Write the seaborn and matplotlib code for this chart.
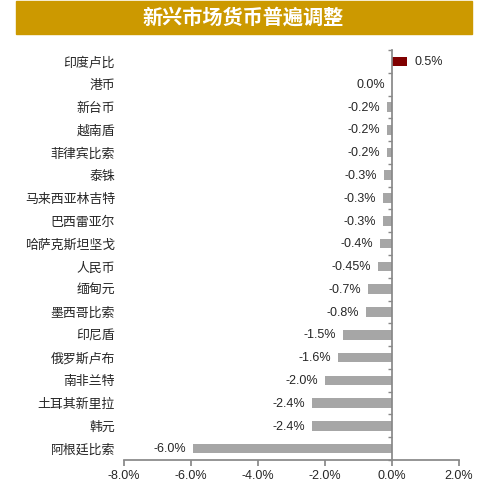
import matplotlib
matplotlib.use('Agg')
import matplotlib.pyplot as plt
import matplotlib.patches as mpatches
from matplotlib.ticker import FuncFormatter
import pandas as pd
import seaborn as sns

# data
currencies = ['印度卢比', '港币', '新台币', '越南盾', '菲律宾比索', '泰铢', '马来西亚林吉特',
              '巴西雷亚尔', '哈萨克斯坦坚戈', '人民币', '缅甸元', '墨西哥比索', '印尼盾',
              '俄罗斯卢布', '南非兰特', '土耳其新里拉', '韩元', '阿根廷比索']
changes = [0.46, 0.0, -0.15, -0.15, -0.16, -0.23, -0.26, -0.28, -0.36, -0.43,
           -0.72, -0.78, -1.45, -1.61, -2.0, -2.39, -2.4, -5.94]
value_labels = ['0.5%', '0.0%', '-0.2%', '-0.2%', '-0.2%', '-0.3%', '-0.3%', '-0.3%',
                '-0.4%', '-0.45%', '-0.7%', '-0.8%', '-1.5%', '-1.6%', '-2.0%', '-2.4%',
                '-2.4%', '-6.0%']
x_ticks = [-8, -6, -4, -2, 0, 2]

TITLE = '新兴市场货币普遍调整'
GOLD = '#CC9900'
GREY = '#A6A6A6'
RED = '#800000'
AXIS = '#888888'

df = pd.DataFrame({'currency': currencies, 'change': changes, 'label': value_labels})
colors = [RED if v > 0 else GREY for v in df['change']]

sns.set_theme(style='white')
plt.rcParams['font.family'] = ['Liberation Sans', 'Noto Sans CJK SC', 'DejaVu Sans']

fig = plt.figure(figsize=(4.87, 4.93), dpi=100)
ax = fig.add_axes([0.2546, 0.0669, 0.6879, 0.8317])

sns.barplot(data=df, y='currency', x='change', hue='currency', palette=colors,
            orient='h', width=0.42, dodge=False, saturation=1, linewidth=0,
            legend=False, ax=ax)

ax.set_xlim(x_ticks[0], x_ticks[-1])
ax.set_ylim(len(currencies) - 0.5, -0.5)
ax.set_xticks(x_ticks)
ax.xaxis.set_major_formatter(FuncFormatter(lambda v, p: f'{v:.1f}%'))
ax.set_xlabel('')
ax.set_ylabel('')

# zero line with ticks between categories
for s in ['top', 'left']:
    ax.spines[s].set_visible(False)
ax.spines['right'].set_position(('data', 0))
ax.spines['right'].set_color(AXIS)
ax.spines['bottom'].set_color(AXIS)
ax.set_yticks([i - 0.5 for i in range(len(currencies) + 1)], minor=True)
ax.tick_params(axis='y', which='major', length=0, pad=6.5)
ax.tick_params(axis='y', which='minor', left=False, right=True, direction='in',
               length=3, color=AXIS, width=1)
ax.tick_params(axis='x', which='major', bottom=True, direction='out', length=4,
               color=AXIS, labelsize=9, pad=3)
for lbl in ax.get_yticklabels():
    lbl.set_fontfamily(['Noto Sans CJK SC', 'DejaVu Sans'])
    lbl.set_fontsize(9.3)

for i, (v, t) in enumerate(zip(df['change'], df['label'])):
    off = 5 if v > 0 else -5
    ax.annotate(t, (v, i), xytext=(off, -0.5), textcoords='offset points',
                ha='left' if v > 0 else 'right', va='center', fontsize=9)

# title banner
fig.patches.append(mpatches.Rectangle((16 / 487, 1 - 34 / 493), 456 / 487, 33 / 493,
                                      transform=fig.transFigure, color=GOLD, zorder=0))
fig.text(0.5, 1 - 17.5 / 493, TITLE, ha='center', va='center', color='white',
         fontsize=14.5, fontweight='bold', family=['Noto Sans CJK SC', 'DejaVu Sans'])

fig.savefig('out.png', dpi=100)
